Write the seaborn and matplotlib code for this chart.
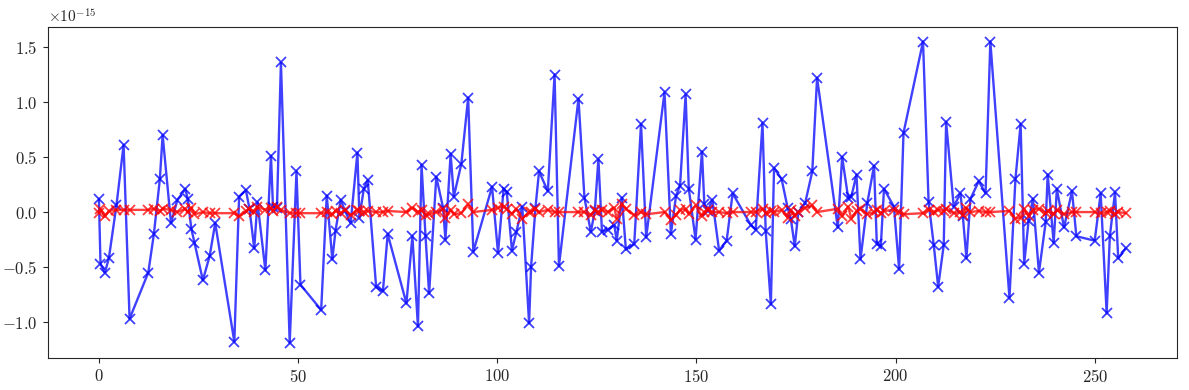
import numpy as np
import matplotlib
matplotlib.use("Agg")
import matplotlib.pyplot as plt
import seaborn as sns

# posiciones x (comunes a las dos series)
x = [0.0, 0.4, 1.5, 2.5, 4.4, 6.2, 7.7, 12.4, 13.8, 15.3,
     16.0, 18.1, 19.7, 21.7, 22.3, 23.2, 24.0, 26.1, 27.8, 29.2,
     34.0, 35.2, 36.9, 37.8, 39.0, 39.8, 41.8, 43.2, 43.7, 44.7,
     45.7, 47.9, 49.6, 50.6, 55.8, 57.2, 58.6, 59.4, 60.7, 61.8,
     63.2, 64.9, 65.4, 66.5, 67.5, 69.6, 71.3, 72.5, 77.2, 78.7,
     80.1, 81.0, 82.0, 82.9, 84.7, 86.4, 87.0, 88.3, 89.1, 91.0,
     92.7, 94.0, 98.7, 100.2, 101.6, 102.4, 103.7, 104.8, 106.3, 108.0,
     108.5, 109.6, 110.5, 112.7, 114.4, 115.5, 120.4, 121.9, 123.5, 124.5,
     125.4, 126.3, 127.7, 129.4, 130.0, 131.3, 132.3, 134.4, 136.1, 137.4,
     142.0, 143.6, 144.9, 145.9, 147.3, 148.1, 149.8, 151.4, 152.0, 152.9,
     154.0, 155.7, 157.6, 159.1, 163.7, 164.9, 166.6, 167.4, 168.7, 169.5,
     171.4, 172.9, 173.7, 174.7, 175.6, 177.3, 179.1, 180.3, 185.5, 186.6,
     188.1, 188.9, 190.2, 191.2, 192.9, 194.6, 195.3, 196.3, 197.1, 199.6,
     200.9, 202.0, 206.9, 208.3, 209.6, 210.7, 212.1, 212.7, 214.6, 216.3,
     216.9, 217.8, 218.8, 220.9, 222.6, 223.8, 228.6, 230.1, 231.4, 232.3,
     233.4, 234.5, 236.0, 237.7, 238.2, 239.7, 240.5, 242.3, 244.3, 245.4,
     250.0, 251.5, 253.0, 253.8, 255.1, 255.9, 257.8]

# serie azul (en unidades de 1e-15)
azul = [0.12, -0.47, -0.55, -0.42, 0.06, 0.61, -0.97, -0.55, -0.20, 0.30,
        0.70, -0.10, 0.11, 0.21, 0.12, -0.15, -0.28, -0.62, -0.40, -0.10,
        -1.18, 0.14, 0.20, 0.03, -0.33, 0.09, -0.53, 0.51, 0.05, 0.04,
        1.36, -1.19, 0.37, -0.66, -0.89, 0.15, -0.43, -0.17, 0.11, 0.01,
        -0.10, 0.54, -0.05, 0.21, 0.29, -0.68, -0.72, -0.20, -0.83, -0.22,
        -1.04, 0.43, -0.22, -0.74, 0.32, 0.04, -0.25, 0.53, 0.14, 0.44,
        1.04, -0.36, 0.23, -0.37, 0.21, 0.18, -0.35, -0.18, 0.05, -1.01,
        -0.50, 0.04, 0.37, 0.19, 1.25, -0.49, 1.03, 0.13, -0.18, 0.01,
        0.48, -0.18, -0.16, -0.12, -0.26, 0.13, -0.34, -0.29, 0.80, -0.23,
        1.09, -0.20, 0.15, 0.24, 1.07, 0.21, -0.25, 0.55, 0.07, 0.01,
        0.11, -0.35, -0.26, 0.17, -0.12, -0.16, 0.81, -0.17, -0.84, 0.40,
        0.30, 0.04, -0.06, -0.31, 0.00, 0.08, 0.37, 1.22, -0.14, 0.50,
        0.13, 0.14, 0.34, -0.43, 0.08, 0.42, -0.29, -0.31, 0.21, 0.05,
        -0.52, 0.72, 1.55, 0.09, -0.30, -0.68, -0.30, 0.82, 0.05, 0.17,
        -0.04, -0.42, 0.12, 0.28, 0.17, 1.55, -0.78, 0.30, 0.80, -0.47,
        -0.08, 0.12, -0.55, -0.09, 0.34, -0.28, 0.21, -0.14, 0.19, -0.22,
        -0.26, 0.17, -0.92, -0.22, 0.18, -0.42, -0.33]

# serie roja (en unidades de 1e-15)
roja = [-0.01, 0.03, -0.04, 0.01, 0.02, 0.02, 0.02, 0.02, 0.03, 0.01,
        0.03, 0.02, 0.00, 0.03, 0.00, 0.04, -0.02, 0.00, -0.01, -0.01,
        -0.01, -0.04, 0.01, 0.03, 0.00, 0.05, 0.02, 0.04, 0.01, 0.05,
        0.02, -0.01, -0.01, -0.01, -0.01, 0.00, -0.02, 0.01, -0.01, 0.02,
        -0.03, 0.02, 0.01, 0.00, 0.01, 0.00, 0.00, 0.01, 0.00, 0.04,
        0.00, 0.02, -0.03, -0.02, 0.00, 0.03, -0.05, 0.02, -0.02, -0.01,
        0.07, 0.00, 0.02, 0.04, 0.05, 0.03, -0.02, 0.03, -0.06, 0.00,
        0.00, 0.03, 0.00, 0.02, 0.00, 0.00, 0.00, 0.00, -0.03, 0.02,
        0.00, 0.02, 0.00, 0.04, -0.06, 0.07, 0.03, -0.03, 0.00, -0.02,
        0.00, -0.07, -0.03, 0.02, 0.03, -0.02, 0.06, -0.04, 0.00, 0.02,
        0.00, 0.00, -0.01, 0.00, 0.00, 0.00, 0.03, -0.01, 0.01, 0.00,
        0.02, -0.05, 0.02, -0.04, 0.00, 0.04, 0.06, 0.00, 0.03, -0.04,
        0.05, -0.06, 0.01, 0.03, -0.02, 0.00, 0.02, -0.01, 0.01, 0.02,
        0.00, -0.02, -0.01, 0.02, 0.00, 0.02, 0.01, 0.03, -0.01, 0.00,
        -0.03, 0.04, 0.00, 0.01, 0.00, 0.00, 0.01, -0.06, -0.05, 0.03,
        -0.04, 0.02, 0.03, -0.01, 0.01, -0.02, 0.02, -0.02, 0.00, 0.00,
        0.00, -0.01, 0.00, 0.01, -0.02, 0.00, -0.01]

escala = 1e-15

sns.set_style("ticks")
plt.rcParams.update({
    'font.family': 'serif',
    'font.serif': ['cmr10', 'DejaVu Serif'],
    'mathtext.fontset': 'cm',
    'axes.formatter.use_mathtext': True,
    'axes.unicode_minus': True,
    'font.size': 12,
    'xtick.labelsize': 12,
    'ytick.labelsize': 12,
})

fig, ax = plt.subplots(figsize=(11.89, 3.9), dpi=100)

sns.lineplot(x=x, y=np.array(azul) * escala, ax=ax, sort=False, estimator=None,
             color='#0000ff', alpha=0.75, marker='x', markersize=6.5,
             markeredgecolor='#0000ff', markeredgewidth=1.3, linewidth=1.7)
sns.lineplot(x=x, y=np.array(roja) * escala, ax=ax, sort=False, estimator=None,
             color='#ff0000', alpha=0.75, marker='x', markersize=6.5,
             markeredgecolor='#ff0000', markeredgewidth=1.3, linewidth=1.7)

ax.set_xticks([0, 50, 100, 150, 200, 250])
ax.yaxis.get_offset_text().set_fontsize(11)
for s in ax.spines.values():
    s.set_visible(True)

fig.subplots_adjust(left=0.040, right=0.990, top=0.932, bottom=0.082)
plt.savefig('out.png', dpi=100)
